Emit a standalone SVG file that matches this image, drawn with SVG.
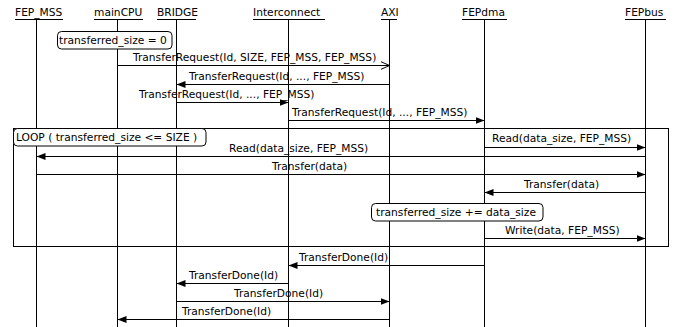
<svg xmlns="http://www.w3.org/2000/svg" width="685" height="327" viewBox="0 0 685 327">
<style>
text{font-family:"DejaVu Sans",sans-serif;font-size:10.67px;fill:#000}
.ll{stroke:#000;stroke-width:1}
.ul{stroke:#000;stroke-width:1}
.msg{stroke:#000;stroke-width:1;fill:none}
.box{stroke:#000;stroke-width:1;fill:#fff}
.frame{stroke:#000;stroke-width:1;fill:none}
</style>
<defs>
<marker id="fa" markerUnits="userSpaceOnUse" markerWidth="10" markerHeight="8" refX="9" refY="3.5" orient="auto"><path d="M0,0 L9,3.5 L0,7 z" fill="#000"/></marker>
<marker id="oa" markerUnits="userSpaceOnUse" markerWidth="11" markerHeight="10" refX="9" refY="4.5" orient="auto"><path d="M0,0.5 L9,4.5 L0,8.5" fill="none" stroke="#000" stroke-width="1"/></marker>
</defs>
<rect width="685" height="327" fill="#fff"/>
<g id="FEP_MSS"><text x="15" y="16">FEP_MSS</text><line class="ul" x1="15" y1="19.5" x2="63" y2="19.5"/><line class="ll" x1="36.5" y1="19" x2="36.5" y2="327"/></g>
<g id="mainCPU"><text x="94" y="16">mainCPU</text><line class="ul" x1="94" y1="19.5" x2="143" y2="19.5"/><line class="ll" x1="117.5" y1="19" x2="117.5" y2="327"/></g>
<g id="BRIDGE"><text x="157" y="16">BRIDGE</text><line class="ul" x1="157" y1="19.5" x2="196" y2="19.5"/><line class="ll" x1="176.5" y1="19" x2="176.5" y2="327"/></g>
<g id="Interconnect"><text x="253" y="16">Interconnect</text><line class="ul" x1="253" y1="19.5" x2="325" y2="19.5"/><line class="ll" x1="288.5" y1="19" x2="288.5" y2="327"/></g>
<g id="AXI"><text x="381" y="16">AXI</text><line class="ul" x1="381" y1="19.5" x2="397" y2="19.5"/><line class="ll" x1="389.5" y1="19" x2="389.5" y2="327"/></g>
<g id="FEPdma"><text x="462" y="16">FEPdma</text><line class="ul" x1="462" y1="19.5" x2="507" y2="19.5"/><line class="ll" x1="484.5" y1="19" x2="484.5" y2="327"/></g>
<g id="FEPbus"><text x="625" y="16">FEPbus</text><line class="ul" x1="625" y1="19.5" x2="666" y2="19.5"/><line class="ll" x1="645.5" y1="19" x2="645.5" y2="327"/></g>
<g id="loop"><rect class="frame" x="13.5" y="128.5" width="655" height="118"/><rect class="box" x="13.5" y="128.5" width="192.5" height="17.5" rx="4"/><text x="16" y="141">LOOP ( transferred_size &lt;= SIZE )</text></g>
<g id="note1"><rect class="box" x="57.5" y="31.5" width="114.5" height="17.5" rx="4"/><text x="59" y="44">transferred_size = 0</text></g>
<g id="note2"><rect class="box" x="371.5" y="203.5" width="171.5" height="17.5" rx="4"/><text x="376" y="216">transferred_size += data_size</text></g>
<g id="connectors">
<line class="msg" x1="117.5" y1="65.5" x2="389.5" y2="65.5" marker-end="url(#oa)"/><text x="133" y="61">TransferRequest(Id, SIZE, FEP_MSS, FEP_MSS)</text>
<line class="msg" x1="389.5" y1="84.5" x2="176.5" y2="84.5" marker-end="url(#fa)"/><text x="189" y="80">TransferRequest(Id, ..., FEP_MSS)</text>
<line class="msg" x1="176.5" y1="102.5" x2="288.5" y2="102.5" marker-end="url(#fa)"/><text x="139" y="98">TransferRequest(Id, ..., FEP_MSS)</text>
<line class="msg" x1="288.5" y1="120.5" x2="484.5" y2="120.5" marker-end="url(#fa)"/><text x="292" y="116">TransferRequest(Id, ..., FEP_MSS)</text>
<line class="msg" x1="484.5" y1="147.5" x2="645.5" y2="147.5" marker-end="url(#fa)"/><text x="492" y="142">Read(data_size, FEP_MSS)</text>
<line class="msg" x1="645.5" y1="156.5" x2="36.5" y2="156.5" marker-end="url(#fa)"/><text x="229" y="152">Read(data_size, FEP_MSS)</text>
<line class="msg" x1="36.5" y1="174.5" x2="645.5" y2="174.5" marker-end="url(#fa)"/><text x="272" y="170">Transfer(data)</text>
<line class="msg" x1="645.5" y1="192.5" x2="484.5" y2="192.5" marker-end="url(#fa)"/><text x="524" y="188">Transfer(data)</text>
<line class="msg" x1="484.5" y1="238.5" x2="645.5" y2="238.5" marker-end="url(#fa)"/><text x="505" y="234">Write(data, FEP_MSS)</text>
<line class="msg" x1="484.5" y1="265.5" x2="288.5" y2="265.5" marker-end="url(#fa)"/><text x="299" y="261">TransferDone(Id)</text>
<line class="msg" x1="288.5" y1="283.5" x2="176.5" y2="283.5" marker-end="url(#fa)"/><text x="189" y="279">TransferDone(Id)</text>
<line class="msg" x1="176.5" y1="301.5" x2="389.5" y2="301.5" marker-end="url(#fa)"/><text x="234" y="297">TransferDone(Id)</text>
<line class="msg" x1="389.5" y1="319.5" x2="117.5" y2="319.5" marker-end="url(#fa)"/><text x="182" y="315">TransferDone(Id)</text>
</g>
</svg>
